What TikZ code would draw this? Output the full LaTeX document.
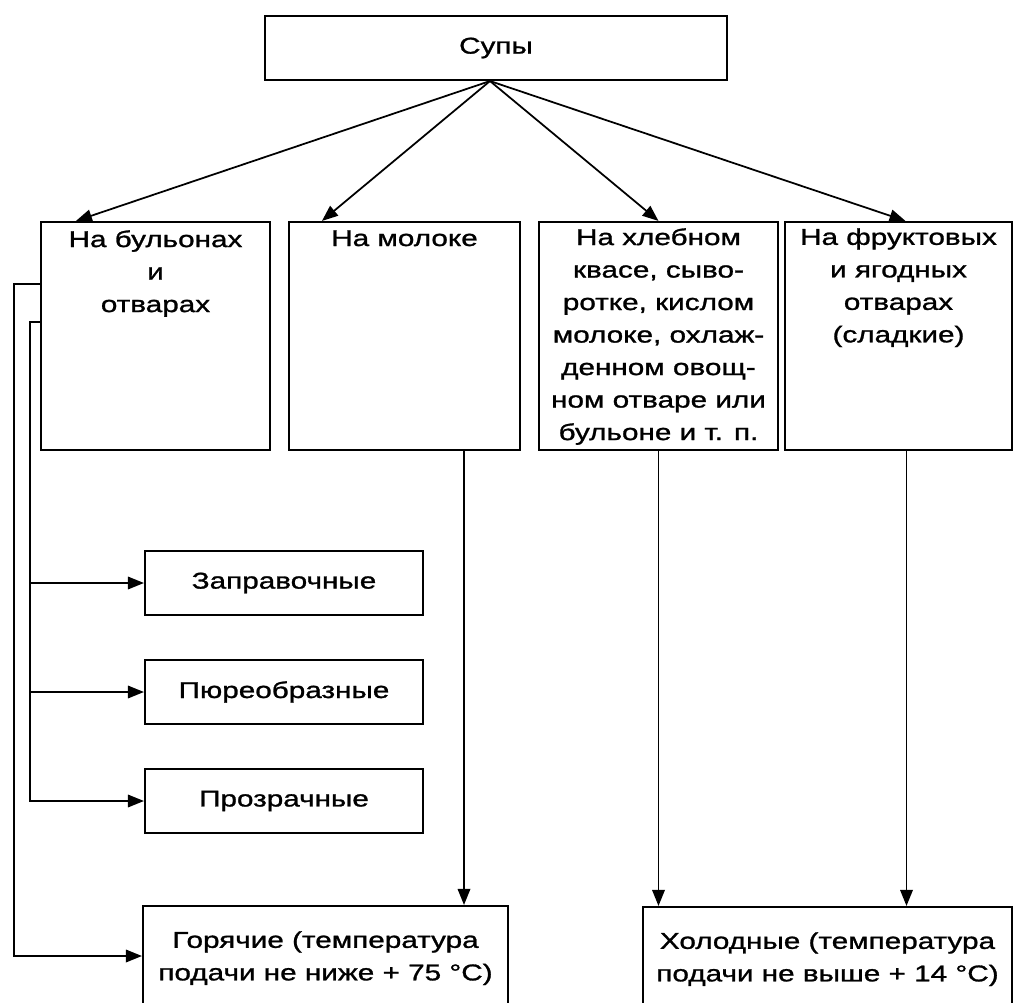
\documentclass[tikz,border=0pt]{standalone}
\usepackage{fontspec}
\setmainfont{Liberation Sans}[FakeStretch=1.3,FakeBold=1.2]
\usetikzlibrary{arrows.meta,fit,calc}

\begin{document}
\begin{tikzpicture}[x=0.02cm,y=-0.02cm,
  box/.style={draw, line width=1.2pt, inner sep=0pt},
  lbl/.style={align=center, inner sep=0pt, font=\fontsize{13}{18.5}\selectfont},
  link/.style={line width=1pt},
  arr/.style={link, -{Triangle[length=0.32cm,width=0.25cm]}}]
\useasboundingbox (0,0) rectangle (1014,1003);
\clip (0,0) rectangle (1014,1003);

% frames
\node[box, fit={(265,16) (727,80)}] (top) {};
\node[box, fit={(41,222) (270,450)}] (b1) {};
\node[box, fit={(289,222) (520,450)}] (b2) {};
\node[box, fit={(539,222) (778,450)}] (b3) {};
\node[box, fit={(785,222) (1012,450)}] (b4) {};
\node[box, fit={(145,551) (423,615)}] (s1) {};
\node[box, fit={(145,660) (423,724)}] (s2) {};
\node[box, fit={(145,769) (423,833)}] (s3) {};
\node[box, fit={(143,906) (508,1006)}] (hot) {};
\node[box, fit={(643,907) (1012,1006)}] (cold) {};

% texts
\node[lbl] (t0) at (top) {Супы};
\node[lbl, anchor=north] (t1) at ($(b1.north)+(0,9)$) {На бульонах\\и\\отварах};
\node[lbl, anchor=north] (t2) at ($(b2.north)+(0,9)$) {На молоке};
\node[lbl, anchor=north] (t3) at ($(b3.north)+(0,7)$) {На хлебном\\квасе, сыво-\\ротке, кислом\\молоке, охлаж-\\денном овощ-\\ном отваре или\\бульоне и т. п.};
\node[lbl, anchor=north] (t4) at ($(b4.north)+(0,7)$) {На фруктовых\\и ягодных\\отварах\\(сладкие)};
\node[lbl] (u1) at (s1) {Заправочные};
\node[lbl] (u2) at (s2) {Пюреобразные};
\node[lbl] (u3) at (s3) {Прозрачные};
\node[lbl, anchor=north] (th) at ($(hot.north)+(0,26)$) {Горячие (температура\\подачи не ниже + 75 °C)};
\node[lbl, anchor=north] (tc) at ($(cold.north)+(0,26)$) {Холодные (температура\\подачи не выше + 14 °C)};

% helper points
\coordinate (hub) at ($(top.south)+(-6,0)$);
\coordinate (outer) at (14,0);
\coordinate (spine) at (30,0);
\coordinate (d2) at ($(b2.south)+(59.5,0)$);
\coordinate (d4) at ($(b4.south)+(8,0)$);

% arrows from the top box
\draw[arr] (hub) -- ($(b1.north west)+(36,0)$);
\draw[arr] (hub) -- ($(b2.north west)+(34,0)$);
\draw[arr] (hub) -- (b3.north);
\draw[arr] (hub) -- ($(b4.north)+(7,0)$);

% left side branches
\draw[arr] ($(b1.north west)+(0,63)$) -| (outer |- hot.west) -- (hot.west);
\draw[arr] ($(b1.north west)+(0,101)$) -| (spine |- s3.west) -- (s3.west);
\draw[arr] (spine |- s1.west) -- (s1.west);
\draw[arr] (spine |- s2.west) -- (s2.west);

% downward arrows
\draw[arr] (d2) -- (d2 |- hot.north);
\draw[arr] (b3.south) -- (b3.south |- cold.north);
\draw[arr] (d4) -- (d4 |- cold.north);
\end{tikzpicture}
\end{document}
